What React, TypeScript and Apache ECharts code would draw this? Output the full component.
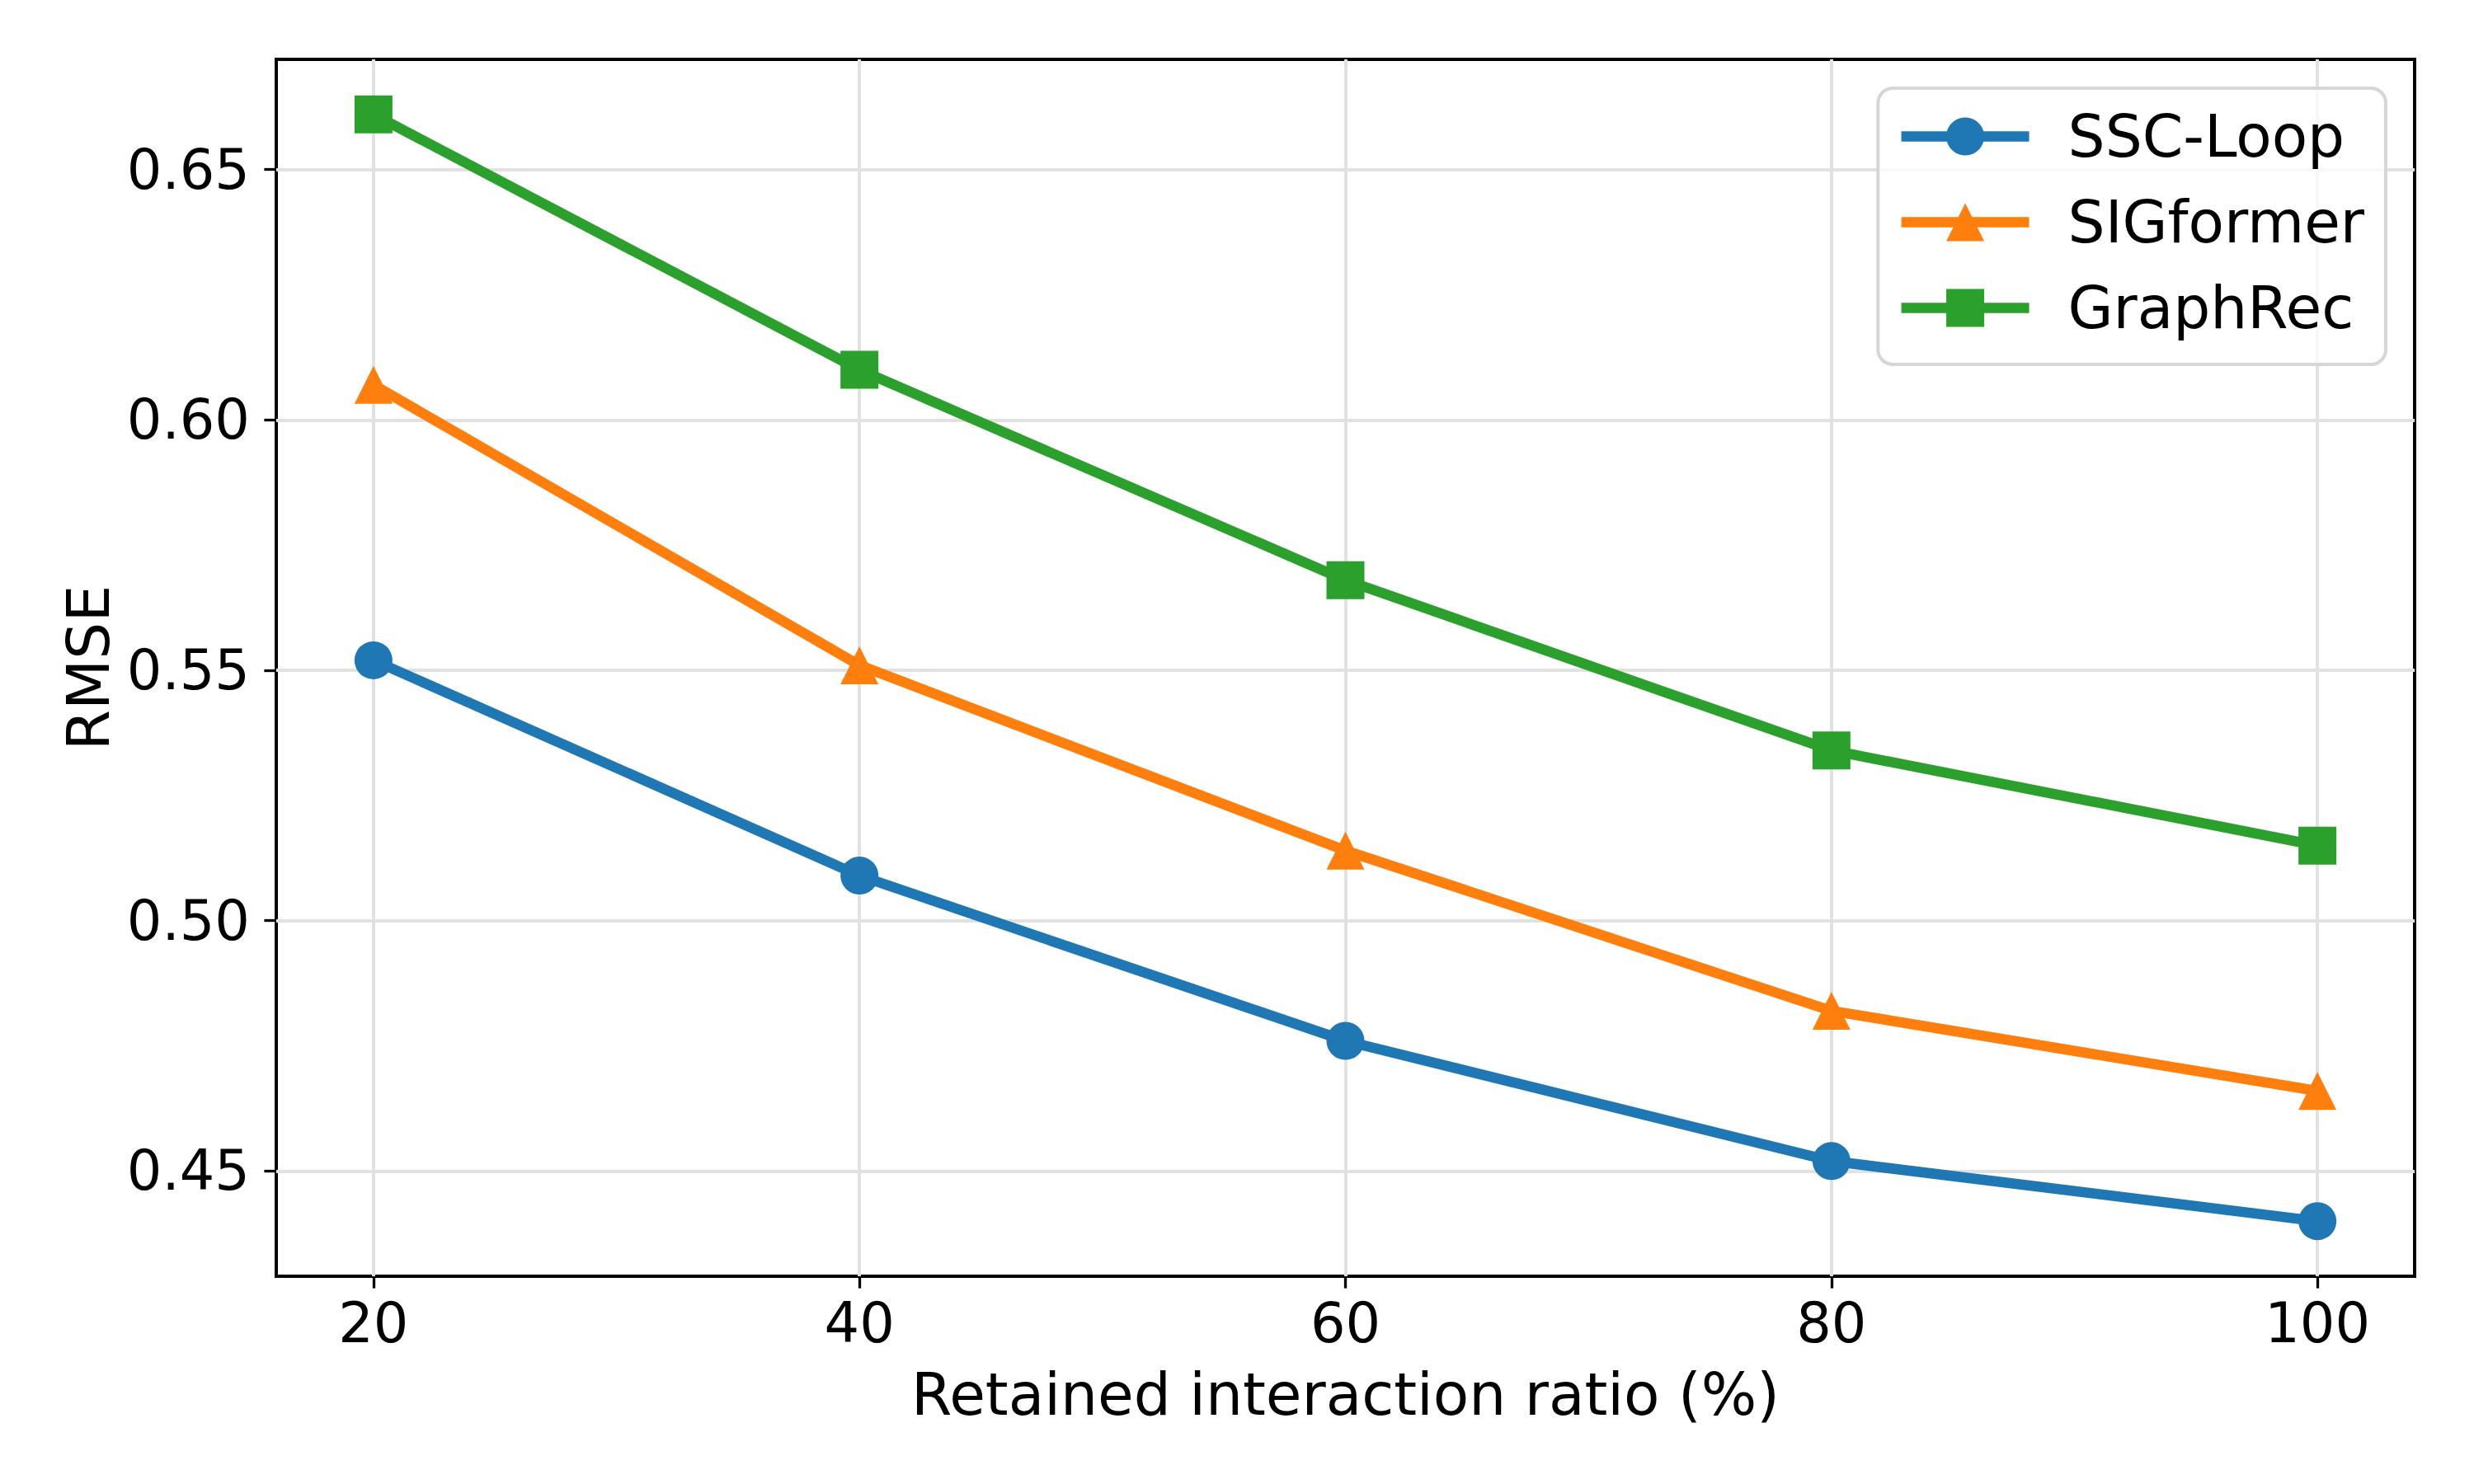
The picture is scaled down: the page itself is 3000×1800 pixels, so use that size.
import React, { useEffect, useRef } from "react";
import * as echarts from "echarts";

const xValues = [20, 40, 60, 80, 100];
const sscLoop = [0.552, 0.509, 0.476, 0.452, 0.44];
const sigformer = [0.607, 0.551, 0.514, 0.482, 0.466];
const graphRec = [0.661, 0.61, 0.568, 0.534, 0.515];
const xTicks = [20, 40, 60, 80, 100];
const yTicks = [0.45, 0.5, 0.55, 0.6, 0.65];
const seriesNames = ["SSC-Loop", "SIGformer", "GraphRec"];
const seriesColors = ["#1f77b4", "#ff7f0e", "#2ca02c"];
const seriesSymbols = ["circle", "triangle", "rect"];
const xLabel = "Retained interaction ratio (%)";
const yLabel = "RMSE";

const FONT = "DejaVu Sans";

export default function App() {
  const ref = useRef<HTMLDivElement>(null);
  useEffect(() => {
    if (!ref.current) return;
    const chart = echarts.init(ref.current, null, { renderer: "svg" });
    const allValues = [sscLoop, sigformer, graphRec];
    const series = allValues.map((vals, i) => ({
      name: seriesNames[i],
      type: "line",
      data: vals.map((v, j) => [xValues[j], v]),
      symbol: seriesSymbols[i],
      symbolSize: 46,
      showSymbol: true,
      lineStyle: { color: seriesColors[i], width: 12.5 },
      itemStyle: { color: seriesColors[i] },
      emphasis: { disabled: true },
    }));
    chart.setOption({
      animation: false,
      backgroundColor: "#ffffff",
      grid: {
        left: 335,
        right: 72,
        top: 72,
        bottom: 252,
        show: true,
        borderColor: "#000000",
        borderWidth: 4,
        backgroundColor: "transparent",
      },
      legend: {
        orient: "vertical",
        right: 107,
        top: 107,
        itemWidth: 155,
        itemHeight: 57.5,
        itemGap: 33,
        padding: [23, 26, 33, 22],
        backgroundColor: "rgba(255,255,255,0.8)",
        borderColor: "#d6d6d6",
        borderWidth: 4,
        borderRadius: 18,
        lineStyle: { width: 12.5 },
        textStyle: {
          fontSize: 71,
          fontFamily: FONT,
          color: "#000000",
          padding: [0, 0, 0, 42],
        },
        data: seriesNames,
      },
      xAxis: {
        type: "value",
        min: 16,
        max: 104,
        axisLine: { show: false },
        axisTick: {
          show: true,
          length: 14.6,
          customValues: xTicks,
          lineStyle: { color: "#000000", width: 3.3 },
        },
        axisLabel: {
          customValues: xTicks,
          fontSize: 67,
          fontFamily: FONT,
          color: "#000000",
          margin: 23,
        },
        splitLine: { show: true, lineStyle: { color: "#e1e1e1", width: 4 } },
        name: xLabel,
        nameLocation: "middle",
        nameGap: 108,
        nameTextStyle: { fontSize: 71, fontFamily: FONT, color: "#000000" },
      },
      yAxis: {
        type: "value",
        min: 0.429,
        max: 0.672,
        axisLine: { show: false },
        axisTick: {
          show: true,
          length: 14.6,
          customValues: yTicks,
          lineStyle: { color: "#000000", width: 3.3 },
        },
        axisLabel: {
          customValues: yTicks,
          formatter: (v: number) => v.toFixed(2),
          fontSize: 67,
          fontFamily: FONT,
          color: "#000000",
          margin: 32,
        },
        splitLine: { show: true, lineStyle: { color: "#e1e1e1", width: 4 } },
        name: yLabel,
        nameLocation: "middle",
        nameGap: 192,
        nameTextStyle: { fontSize: 71, fontFamily: FONT, color: "#000000" },
      },
      series,
    });
    return () => chart.dispose();
  }, []);
  return (
    <div
      ref={ref}
      style={{ position: "fixed", left: 0, top: 0, width: 3000, height: 1800 }}
    />
  );
}
